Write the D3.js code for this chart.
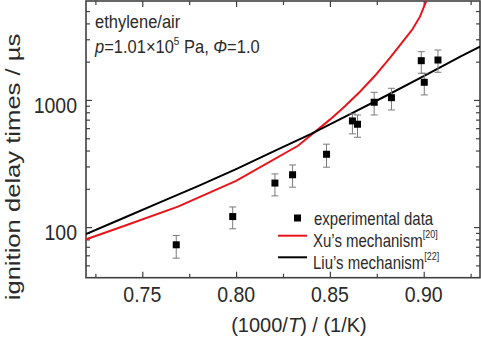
<!DOCTYPE html>
<html>
<head>
<meta charset="utf-8">
<script src="https://d3js.org/d3.v7.min.js"></script>
<style>
  body { margin: 0; background: #fff; }
  text { font-family: "Liberation Sans", Arial, sans-serif; fill: #2a2a2a; }
</style>
</head>
<body>
<svg width="481" height="338"></svg>
<script>
// experimental data: 1000/T, ignition delay (us), error bar top / bottom
const expX   = [0.7681, 0.7982, 0.8207, 0.8301, 0.8482, 0.8620, 0.8647, 0.8736, 0.8828, 0.8987, 0.9003, 0.9076];
const expY   = [72.6, 121, 222, 258, 374, 684, 644, 959, 1042, 2036, 1377, 2061];
const expHi  = [86, 144, 262, 308, 449, 776, 762, 1149, 1235, 2395, 1621, 2470];
const expLo  = [57, 97, 176, 206, 296, 541, 509, 762, 834, 1621, 1095, 1650];

// Xu's mechanism
const xuX = [0.714, 0.741, 0.769, 0.800, 0.833, 0.850, 0.858, 0.866, 0.874, 0.882, 0.890, 0.894, 0.898, 0.902];
const xuY = [74.5, 103, 145, 231, 436, 700, 891, 1161, 1549, 2138, 3020, 3597, 4519, 6310];

// Liu's mechanism
const liuX = [0.72, 0.74, 0.76, 0.78, 0.80, 0.82, 0.84, 0.86, 0.88, 0.90, 0.92, 0.93];
const liuY = [88, 118, 158, 211, 286, 394, 541, 762, 1079, 1542, 2213, 2630];

const xMajor = [0.75, 0.80, 0.85, 0.90];
const xMinor = [0.725, 0.775, 0.825, 0.875, 0.925];
const yMajor = [100, 1000];
const yMinor = [50, 60, 70, 80, 90, 200, 300, 400, 500, 600, 700, 800, 900, 2000, 3000, 4000, 5000];

const pLeft = 86, pRight = 480, pTop = 1, pBottom = 277.7;
const svg = d3.select('svg');

const x = d3.scaleLinear().domain([0.72, 0.93]).range([pLeft, pRight]);
const y = d3.scaleLog().domain([40, 6000]).range([pBottom, pTop]);

// text drawn a bit taller than wide, like the source picture
function stext(g, tx, ty, str, size, k, anchor) {
  const t = g.append('text')
    .attr('transform', 'translate(' + tx + ',' + ty + ') scale(1,' + k + ')')
    .attr('font-size', size)
    .attr('text-anchor', anchor || 'start');
  if (str !== null) t.text(str);
  return t;
}

svg.append('clipPath').attr('id', 'clip')
  .append('rect').attr('x', pLeft).attr('y', pTop)
  .attr('width', pRight - pLeft).attr('height', pBottom - pTop);

// axes with inward ticks
function addAxis(axis, tf, ticks, size) {
  svg.append('g').attr('transform', tf)
    .call(axis.tickValues(ticks).tickSize(size).tickFormat(''))
    .call(g => g.select('.domain').remove())
    .call(g => g.selectAll('line').attr('stroke', '#404040').attr('stroke-width', 1.2));
}
addAxis(d3.axisTop(x), 'translate(0,' + pBottom + ')', xMajor, 6);
addAxis(d3.axisTop(x), 'translate(0,' + pBottom + ')', xMinor, 4);
addAxis(d3.axisBottom(x), 'translate(0,' + pTop + ')', xMajor, 6);
addAxis(d3.axisBottom(x), 'translate(0,' + pTop + ')', xMinor, 4);
addAxis(d3.axisRight(y), 'translate(' + pLeft + ',0)', yMajor, 6);
addAxis(d3.axisRight(y), 'translate(' + pLeft + ',0)', yMinor, 4);
addAxis(d3.axisLeft(y), 'translate(' + pRight + ',0)', yMajor, 6);
addAxis(d3.axisLeft(y), 'translate(' + pRight + ',0)', yMinor, 4);

svg.append('rect')
  .attr('x', pLeft).attr('y', pTop)
  .attr('width', pRight - pLeft).attr('height', pBottom - pTop)
  .attr('fill', 'none').attr('stroke', '#404040').attr('stroke-width', 1.6);

// tick labels
xMajor.forEach(v => stext(svg, x(v), 301.5, v.toFixed(2), 19.5, 1.15, 'middle'));
yMajor.forEach(v => stext(svg, 77, y(v) + 12.8, String(v), 19.5, 1.15, 'end'));

// axis titles
const xt = stext(svg, 299, 332, null, 20, 1.05, 'middle');
xt.append('tspan').text('(1000/');
xt.append('tspan').attr('font-style', 'italic').text('T');
xt.append('tspan').text(') / (1/K)');

svg.append('text')
  .attr('transform', 'translate(20,167) rotate(-90) scale(1.22,1)')
  .attr('font-size', 21).attr('text-anchor', 'middle')
  .text('ignition delay times / \u00b5s');

// curves
const plot = svg.append('g').attr('clip-path', 'url(#clip)');
const line = d3.line().x(d => x(d[0])).y(d => y(d[1]));
plot.append('path').datum(d3.zip(xuX, xuY))
  .attr('d', line).attr('fill', 'none').attr('stroke', '#e8141b').attr('stroke-width', 2);
plot.append('path').datum(d3.zip(liuX, liuY))
  .attr('d', line).attr('fill', 'none').attr('stroke', '#000').attr('stroke-width', 2);

// error bars + squares
const exp = d3.range(expX.length).map(i => ({ x: expX[i], y: expY[i], hi: expHi[i], lo: expLo[i] }));
const eb = plot.append('g').attr('stroke', '#7a7a7a').attr('stroke-width', 1);
eb.selectAll('.v').data(exp).join('line').attr('class', 'v')
  .attr('x1', d => x(d.x)).attr('x2', d => x(d.x))
  .attr('y1', d => y(d.hi)).attr('y2', d => y(d.lo));
eb.selectAll('.t').data(exp).join('line').attr('class', 't')
  .attr('x1', d => x(d.x) - 3.5).attr('x2', d => x(d.x) + 3.5)
  .attr('y1', d => y(d.hi)).attr('y2', d => y(d.hi));
eb.selectAll('.b').data(exp).join('line').attr('class', 'b')
  .attr('x1', d => x(d.x) - 3.5).attr('x2', d => x(d.x) + 3.5)
  .attr('y1', d => y(d.lo)).attr('y2', d => y(d.lo));
plot.selectAll('rect.pt').data(exp).join('rect')
  .attr('class', 'pt')
  .attr('x', d => x(d.x) - 3.5).attr('y', d => y(d.y) - 3.5)
  .attr('width', 7).attr('height', 7).attr('fill', '#000');

// annotation
stext(svg, 95, 28, 'ethylene/air', 16.5, 1.12);
const an = stext(svg, 95, 53, null, 16.5, 1.12);
an.append('tspan').attr('font-style', 'italic').text('p');
an.append('tspan').text('=1.01\u00d710');
an.append('tspan').attr('font-size', 10).attr('dy', -7).text('5');
an.append('tspan').attr('dy', 7).text(' Pa, ');
an.append('tspan').attr('font-style', 'italic').text('\u03a6');
an.append('tspan').text('=1.0');

// legend
const lg = svg.append('g');
lg.append('rect').attr('x', 294).attr('y', 214.5).attr('width', 7).attr('height', 7).attr('fill', '#000');
stext(lg, 314, 225, 'experimental data', 15, 1.18);
lg.append('line').attr('x1', 278).attr('x2', 307).attr('y1', 235.7).attr('y2', 235.7)
  .attr('stroke', '#e8141b').attr('stroke-width', 2);
const l2 = stext(lg, 313, 246.7, null, 15, 1.18);
l2.append('tspan').text('Xu\u2019s mechanism');
l2.append('tspan').attr('font-size', 9).attr('dy', -7).text('[20]');
lg.append('line').attr('x1', 278).attr('x2', 307).attr('y1', 257.3).attr('y2', 257.3)
  .attr('stroke', '#000').attr('stroke-width', 2);
const l3 = stext(lg, 313, 268.5, null, 15, 1.18);
l3.append('tspan').text('Liu\u2019s mechanism');
l3.append('tspan').attr('font-size', 9).attr('dy', -7).text('[22]');
</script>
</body>
</html>
